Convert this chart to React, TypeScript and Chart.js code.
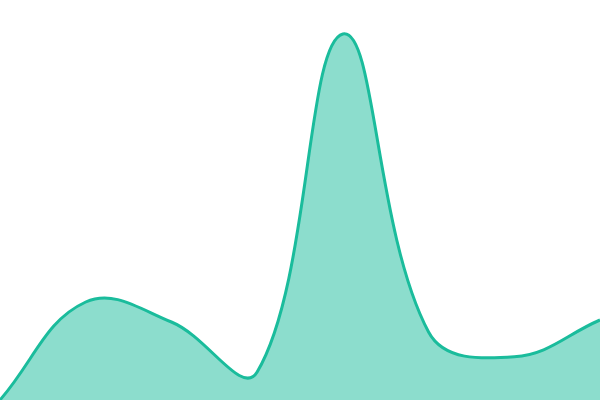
import { useEffect, useRef } from "react";
import Chart from "chart.js/auto";

const labels = ["1", "2", "3", "4", "5", "6", "7", "8"];
const values = [0, 24.5, 19.5, 7, 91.5, 17, 10.8, 20];

export default function App() {
  const chartRef = useRef<HTMLCanvasElement>(null);

  useEffect(() => {
    const chart = new Chart(chartRef.current!, {
      type: "line",
      data: {
        labels,
        datasets: [
          {
            data: values,
            fill: true,
            borderColor: "#1abc9c",
            backgroundColor: "rgba(26, 188, 156, 0.5)",
            borderWidth: 3,
            tension: 0.4,
            pointRadius: 0,
          },
        ],
      },
      options: {
        animation: false,
        responsive: true,
        maintainAspectRatio: false,
        layout: { padding: 0 },
        plugins: {
          legend: { display: false },
          tooltip: { enabled: false },
        },
        scales: {
          x: { display: false },
          y: { display: false, min: 0, max: 100 },
        },
      },
    });

    return () => chart.destroy();
  }, []);

  return (
    <div style={{ position: "fixed", left: 0, top: 0, width: 600, height: 400, background: "#fff" }}>
      <canvas ref={chartRef}></canvas>
    </div>
  );
}
